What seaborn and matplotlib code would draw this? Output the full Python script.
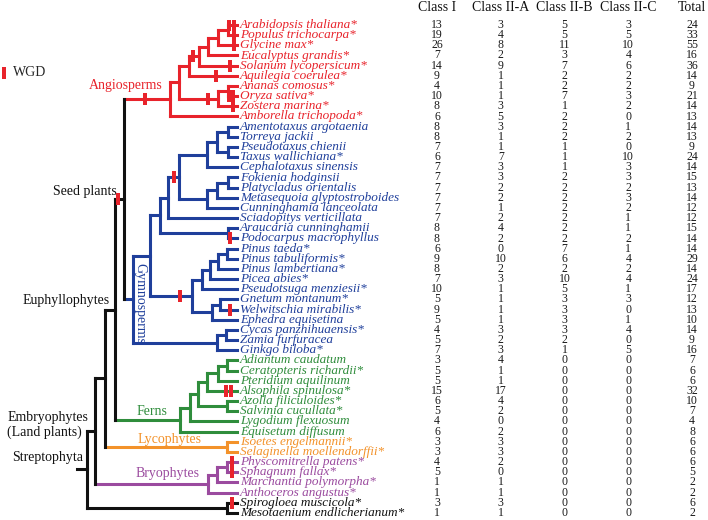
import numpy as np
import pandas as pd
import seaborn as sns
import matplotlib.pyplot as plt
from matplotlib.colors import ListedColormap
from matplotlib.path import Path

RED = '#e8232b'
BLUE = '#1f3f9b'
GREEN = '#2f8d3c'
ORANGE = '#f3922a'
PURPLE = '#9b4b9f'
BLACK = '#111111'

species = ['Arabidopsis thaliana*', 'Populus trichocarpa*', 'Glycine max*', 'Eucalyptus grandis*',
           'Solanum lycopersicum*', 'Aquilegia coerulea*', 'Ananas comosus*', 'Oryza sativa*',
           'Zostera marina*', 'Amborella trichopoda*',
           'Amentotaxus argotaenia', 'Torreya jackii', 'Pseudotaxus chienii', 'Taxus wallichiana*',
           'Cephalotaxus sinensis', 'Fokienia hodginsii', 'Platycladus orientalis',
           'Metasequoia glyptostroboides', 'Cunninghamia lanceolata', 'Sciadopitys verticillata',
           'Araucaria cunninghamii', 'Podocarpus macrophyllus', 'Pinus taeda*', 'Pinus tabuliformis*',
           'Pinus lambertiana*', 'Picea abies*', 'Pseudotsuga menziesii*', 'Gnetum montanum*',
           'Welwitschia mirabilis*', 'Ephedra equisetina', 'Cycas panzhihuaensis*', 'Zamia furfuracea',
           'Ginkgo biloba*',
           'Adiantum caudatum', 'Ceratopteris richardii*', 'Pteridium aquilinum', 'Alsophila spinulosa*',
           'Azolla filiculoides*', 'Salvinia cucullata*', 'Lygodium flexuosum', 'Equisetum diffusum',
           'Isoetes engelmannii*', 'Selaginella moellendorffii*',
           'Physcomitrella patens*', 'Sphagnum fallax*', 'Marchantia polymorpha*', 'Anthoceros angustus*',
           'Spirogloea muscicola*', 'Mesotaenium endlicherianum*']

class_1 = [13, 19, 26, 7, 14, 9, 4, 10, 8, 6,
           8, 8, 7, 6, 7, 7, 7, 7, 7, 7, 8, 8, 6, 9, 8, 7, 10, 5, 9, 5, 4, 5, 7,
           3, 5, 5, 15, 6, 5, 4, 6, 3, 3, 4, 5, 1, 1, 3, 1]
class_2a = [3, 4, 8, 2, 9, 1, 1, 1, 3, 5,
            3, 1, 1, 7, 3, 3, 2, 2, 1, 2, 4, 2, 0, 10, 2, 3, 1, 1, 1, 1, 3, 2, 3,
            4, 1, 1, 17, 4, 2, 0, 2, 3, 3, 2, 0, 1, 1, 3, 1]
class_2b = [5, 5, 11, 3, 7, 2, 2, 7, 1, 2,
            2, 2, 1, 1, 1, 2, 2, 2, 2, 2, 2, 2, 7, 6, 2, 10, 5, 3, 3, 3, 3, 2, 1,
            0, 0, 0, 0, 0, 0, 0, 0, 0, 0, 0, 0, 0, 0, 0, 0]
class_2c = [3, 5, 10, 4, 6, 2, 2, 3, 2, 0,
            1, 2, 0, 10, 3, 3, 2, 3, 2, 1, 1, 2, 1, 4, 2, 4, 1, 3, 0, 1, 4, 0, 5,
            0, 0, 0, 0, 0, 0, 0, 0, 0, 0, 0, 0, 0, 0, 0, 0]
total = [24, 33, 55, 16, 36, 14, 9, 21, 14, 13,
         14, 13, 9, 24, 14, 15, 13, 14, 12, 12, 15, 14, 14, 29, 14, 24, 17, 12, 13, 10, 14, 9, 16,
         7, 6, 6, 32, 10, 7, 4, 8, 6, 6, 6, 5, 2, 2, 6, 2]
columns = ['Class I', 'Class II-A', 'Class II-B', 'Class II-C', 'Total']

# tree nodes: (node depth, colour, children); leaves are species names
tree = (87, BLACK, [
    (95, None, [
        (105, None, [
            (115, None, [
                (124, None, [
                    (170, RED, [
                        (179, None, [
                            (189, None, [
                                (199, None, [
                                    (208, None, [
                                        (218, None, [
                                            (228, None, ['Arabidopsis thaliana*', 'Populus trichocarpa*']),
                                            'Glycine max*']),
                                        'Eucalyptus grandis*']),
                                    'Solanum lycopersicum*']),
                                'Aquilegia coerulea*']),
                            (218, None, [
                                (228, None, ['Ananas comosus*', 'Oryza sativa*']),
                                'Zostera marina*'])]),
                        'Amborella trichopoda*']),
                    (133, BLUE, [
                        (150, None, [
                            (160, None, [
                                (168, None, [
                                    (179, None, [
                                        (207, None, [
                                            (217, None, [
                                                (228, None, ['Amentotaxus argotaenia', 'Torreya jackii']),
                                                (228, None, ['Pseudotaxus chienii', 'Taxus wallichiana*'])]),
                                            'Cephalotaxus sinensis']),
                                        (207, None, [
                                            (217, None, [
                                                (228, None, ['Fokienia hodginsii', 'Platycladus orientalis']),
                                                'Metasequoia glyptostroboides']),
                                            'Cunninghamia lanceolata'])]),
                                    'Sciadopitys verticillata']),
                                (228, None, ['Araucaria cunninghamii', 'Podocarpus macrophyllus'])]),
                            (192, None, [
                                (202, None, [
                                    (210, None, [
                                        (218, None, [
                                            (227, None, ['Pinus taeda*', 'Pinus tabuliformis*']),
                                            'Pinus lambertiana*']),
                                        'Picea abies*']),
                                    'Pseudotsuga menziesii*']),
                                (212, None, [
                                    (220, None, ['Gnetum montanum*', 'Welwitschia mirabilis*']),
                                    'Ephedra equisetina'])])]),
                        (217, None, [
                            (226, None, ['Cycas panzhihuaensis*', 'Zamia furfuracea']),
                            'Ginkgo biloba*'])])]),
                (180, GREEN, [
                    (190, None, [
                        (198, None, [
                            (207, None, [
                                (218, None, [
                                    (227, None, ['Adiantum caudatum', 'Ceratopteris richardii*']),
                                    'Pteridium aquilinum']),
                                'Alsophila spinulosa*']),
                            (227, None, ['Azolla filiculoides*', 'Salvinia cucullata*'])]),
                        'Lygodium flexuosum']),
                    'Equisetum diffusum'])]),
            (227, ORANGE, ['Isoetes engelmannii*', 'Selaginella moellendorffii*'])]),
        (208, PURPLE, [
            (217, None, [
                (227, None, ['Physcomitrella patens*', 'Sphagnum fallax*']),
                'Marchantia polymorpha*']),
            'Anthoceros angustus*'])]),
    (227, None, ['Spirogloea muscicola*', 'Mesotaenium endlicherianum*'])])

# WGD events: branch given by two leaves (their common ancestor), position on that branch
wgd = [('Arabidopsis thaliana*', 'Amborella trichopoda*', 145),
       ('Arabidopsis thaliana*', 'Ginkgo biloba*', 118),
       ('Arabidopsis thaliana*', 'Solanum lycopersicum*', 193),
       ('Ananas comosus*', 'Zostera marina*', 208),
       ('Arabidopsis thaliana*', 'Arabidopsis thaliana*', 228.5),
       ('Arabidopsis thaliana*', 'Arabidopsis thaliana*', 233.5),
       ('Populus trichocarpa*', 'Populus trichocarpa*', 233.5),
       ('Glycine max*', 'Glycine max*', 233.5),
       ('Solanum lycopersicum*', 'Solanum lycopersicum*', 230),
       ('Aquilegia coerulea*', 'Aquilegia coerulea*', 216),
       ('Oryza sativa*', 'Oryza sativa*', 228.5),
       ('Oryza sativa*', 'Oryza sativa*', 233),
       ('Zostera marina*', 'Zostera marina*', 233),
       ('Amentotaxus argotaenia', 'Cunninghamia lanceolata', 174),
       ('Podocarpus macrophyllus', 'Podocarpus macrophyllus', 230),
       ('Pinus taeda*', 'Ephedra equisetina', 180),
       ('Welwitschia mirabilis*', 'Welwitschia mirabilis*', 230),
       ('Alsophila spinulosa*', 'Alsophila spinulosa*', 225.5),
       ('Alsophila spinulosa*', 'Alsophila spinulosa*', 230.5),
       ('Physcomitrella patens*', 'Physcomitrella patens*', 232),
       ('Sphagnum fallax*', 'Sphagnum fallax*', 232),
       ('Spirogloea muscicola*', 'Spirogloea muscicola*', 232)]

# clade names: text, two leaves of the clade, colour, offsets (px) from the node, alignment, rotation
clade_labels = [('Angiosperms', 'Arabidopsis thaliana*', 'Amborella trichopoda*', RED, -7, -14, 'right', 0),
                ('Gymnosperms', 'Amentotaxus argotaenia', 'Ginkgo biloba*', BLUE, 7, 4, 'center', -90),
                ('Seed plants', 'Arabidopsis thaliana*', 'Ginkgo biloba*', BLACK, -7, -8, 'right', 0),
                ('Euphyllophytes', 'Arabidopsis thaliana*', 'Equisetum diffusum', BLACK, -5, -9, 'right', 0),
                ('Embryophytes\n(Land plants)', 'Arabidopsis thaliana*', 'Anthoceros angustus*', BLACK, -7, -6, 'right', 0),
                ('Streptophyta', 'Arabidopsis thaliana*', 'Mesotaenium endlicherianum*', BLACK, -4, -12, 'right', 0),
                ('Ferns', 'Adiantum caudatum', 'Equisetum diffusum', GREEN, -13, -8, 'right', 0),
                ('Lycophytes', 'Isoetes engelmannii*', 'Selaginella moellendorffii*', ORANGE, -25, -7, 'right', 0),
                ('Bryophytes', 'Physcomitrella patens*', 'Anthoceros angustus*', PURPLE, -8, -10, 'right', 0)]

sns.set_style('white')
plt.rcParams['font.family'] = ['Liberation Serif', 'DejaVu Serif']

W, H = 708, 520
ROW0, ROW_PX = 25, (513 - 25) / 48
TIP_X, ROOT_X = 237, 77
n = len(species)
row = {s: i for i, s in enumerate(species)}

segments = []
nodes = []
tip_colour = {}


def walk(node, parent_x, colour):
    if isinstance(node, str):
        y = row[node]
        segments.append((parent_x, TIP_X, y, y, colour))
        tip_colour[node] = colour
        nodes.append(({node}, TIP_X, y))
        return {node}, y
    x, c, children = node
    colour = c or colour
    leaves, ys = set(), []
    for ch in children:
        lv, yy = walk(ch, x, colour)
        leaves |= lv
        ys.append(yy)
    y = (ys[0] + ys[-1]) / 2
    segments.append((x, x, ys[0], ys[-1], colour))
    segments.append((parent_x, x, y, y, colour))
    nodes.append((leaves, x, y))
    return leaves, y


walk(tree, ROOT_X, BLACK)


def mrca(a, b):
    cands = [nd for nd in nodes if a in nd[0] and b in nd[0]]
    return min(cands, key=lambda nd: len(nd[0]))


fig = plt.figure(figsize=(W / 100, H / 100), dpi=100)
top_px = ROW0 - ROW_PX / 2
bottom = 1 - (top_px + n * ROW_PX) / H
height = n * ROW_PX / H

ax = fig.add_axes([0, bottom, 1, height])
for x0, x1, y0, y1, c in segments:
    ax.plot([x0, x1], [y0, y1], color=c, lw=2.2, solid_capstyle='projecting', zorder=2)

for s in species:
    ax.text(240, row[s], s, color=tip_colour[s], style='italic', fontsize=9.5,
            ha='left', va='center')

wx = [x for a, b, x in wgd]
wy = [mrca(a, b)[2] for a, b, x in wgd]
bar = Path([(-0.15, -0.5), (0.15, -0.5), (0.15, 0.5), (-0.15, 0.5), (-0.15, -0.5)])
sns.scatterplot(x=wx, y=wy, ax=ax, marker=bar, s=64, color=RED, linewidth=0, zorder=5)

# legend
leg_y = (73 - ROW0) / ROW_PX
ax.scatter([4], [leg_y], marker=bar, s=72, color=RED, linewidth=0, zorder=5)
ax.text(13, leg_y, 'WGD', fontsize=10, ha='left', va='center')

for text, a, b, c, dx, dy, ha, rot in clade_labels:
    _, nx, ny = mrca(a, b)
    ax.text(nx + dx, ny + dy / ROW_PX, text, color=c, fontsize=10, ha=ha, va='center',
            rotation=rot, multialignment='left', rotation_mode='anchor' if rot else 'default')

ax.set_xlim(0, W)
ax.set_ylim(n - 0.5, -0.5)
ax.axis('off')

# table of gene counts
df = pd.DataFrame({'Class I': class_1, 'Class II-A': class_2a, 'Class II-B': class_2b,
                   'Class II-C': class_2c, 'Total': total}, index=species)[columns]
col_w = 63.75
ax_tab = fig.add_axes([(437 - col_w / 2) / W, bottom, 5 * col_w / W, height])
sns.heatmap(df, ax=ax_tab, cmap=ListedColormap(['white']), cbar=False, annot=True, fmt='d',
            annot_kws={'fontsize': 8.5, 'color': '#1a1a1a'}, yticklabels=False)
ax_tab.xaxis.tick_top()
ax_tab.tick_params(axis='x', length=0, pad=4, labelsize=10, labelcolor='#111111')
ax_tab.set_xticklabels(columns, rotation=0)
ax_tab.set_xlabel('')
ax_tab.set_ylabel('')

fig.savefig('out.png', dpi=100)
